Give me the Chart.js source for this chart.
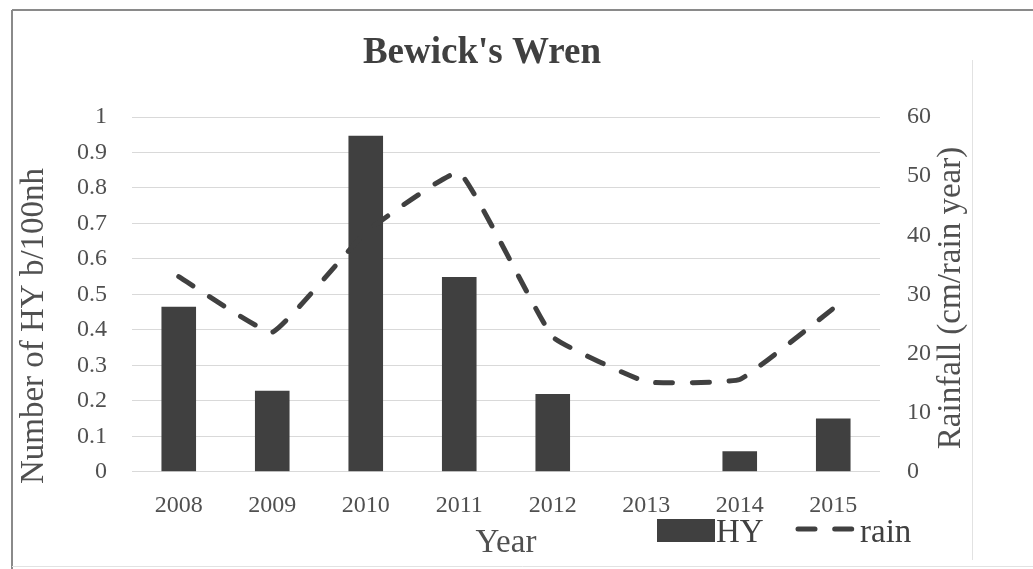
<!DOCTYPE html>
<html>
<head>
<meta charset="utf-8">
<title>Bewick's Wren</title>
<script src="https://cdn.jsdelivr.net/npm/chart.js@4"></script>
<style>
  html, body { margin: 0; padding: 0; background: #ffffff; }
  canvas { display: block; }
</style>
</head>
<body>
<canvas id="chart" width="1033" height="569"></canvas>
<script>
// Survey years
const years = ['2008', '2009', '2010', '2011', '2012', '2013', '2014', '2015'];
// Hatch-year birds per 100 net hours
const hyValues = [0.465, 0.228, 0.947, 0.549, 0.219, 0, 0.058, 0.150];
// Rainfall per rain year (cm)
const rainValues = [33.0, 23.6, 40.5, 50.6, 22.8, 15.2, 15.6, 27.6];
// Axis tick labels
const hyTickLabels = ['0', '0.1', '0.2', '0.3', '0.4', '0.5', '0.6', '0.7', '0.8', '0.9', '1'];
const rainTickLabels = ['0', '10', '20', '30', '40', '50', '60'];
// Titles
const chartTitle = "Bewick's Wren";
const xTitle = 'Year';
const yLeftTitle = 'Number of HY b/100nh';
const yRightTitle = 'Rainfall (cm/rain year)';

const SERIF = '"Liberation Serif", "Times New Roman", serif';
const DARK = '#404040';
const TEXT = '#505050';

// Frame, chart title, vertical axis titles and the legend
const decorations = {
  id: 'decorations',
  beforeDraw(chart) {
    const ctx = chart.ctx;
    ctx.save();
    ctx.strokeStyle = '#8a8a8a';
    ctx.lineWidth = 2;
    ctx.beginPath();
    ctx.moveTo(12, 10); ctx.lineTo(1033, 10);
    ctx.moveTo(12, 10); ctx.lineTo(12, 569);
    ctx.stroke();
    ctx.strokeStyle = '#e2e2e2';
    ctx.lineWidth = 1;
    ctx.beginPath();
    ctx.moveTo(972.5, 60); ctx.lineTo(972.5, 560);
    ctx.moveTo(12, 566.5); ctx.lineTo(1033, 566.5);
    ctx.stroke();
    ctx.restore();
  },
  afterDraw(chart) {
    const ctx = chart.ctx;
    ctx.save();

    // Chart title
    ctx.fillStyle = DARK;
    ctx.font = 'bold 37px ' + SERIF;
    ctx.textAlign = 'center';
    ctx.textBaseline = 'alphabetic';
    ctx.fillText(chartTitle, 482, 63);

    // Vertical axis titles, both reading bottom to top
    ctx.fillStyle = TEXT;
    ctx.font = '33px ' + SERIF;
    ctx.textBaseline = 'middle';
    ctx.save();
    ctx.translate(34, 326);
    ctx.rotate(-Math.PI / 2);
    ctx.fillText(yLeftTitle, 0, 0);
    ctx.restore();
    ctx.save();
    ctx.translate(951, 298);
    ctx.rotate(-Math.PI / 2);
    ctx.fillText(yRightTitle, 0, 0);
    ctx.restore();

    // Legend
    const bars = chart.data.datasets[0];
    const line = chart.data.datasets[1];
    ctx.font = '33px ' + SERIF;
    ctx.textAlign = 'left';
    ctx.textBaseline = 'alphabetic';
    ctx.fillStyle = bars.backgroundColor;
    ctx.fillRect(657, 519, 58, 23);
    ctx.fillStyle = DARK;
    ctx.fillText(bars.label, 716, 542);

    ctx.strokeStyle = line.borderColor;
    ctx.lineWidth = line.borderWidth;
    ctx.lineCap = line.borderCapStyle;
    ctx.setLineDash(line.borderDash);
    ctx.beginPath();
    ctx.moveTo(798, 529);
    ctx.lineTo(853, 529);
    ctx.stroke();
    ctx.setLineDash([]);
    ctx.fillText(line.label, 860, 542);

    ctx.restore();
  }
};

new Chart(document.getElementById('chart'), {
  data: {
    labels: years,
    datasets: [
      {
        type: 'bar',
        label: 'HY',
        data: hyValues,
        yAxisID: 'yHY',
        backgroundColor: DARK,
        borderWidth: 0,
        categoryPercentage: 1,
        barPercentage: 0.37,
        order: 2
      },
      {
        type: 'line',
        label: 'rain',
        data: rainValues,
        yAxisID: 'yRain',
        borderColor: DARK,
        borderWidth: 5,
        borderDash: [17, 19.7],
        borderCapStyle: 'round',
        borderJoinStyle: 'round',
        tension: 0.1,
        pointRadius: 0,
        fill: false,
        order: 1
      }
    ]
  },
  options: {
    responsive: false,
    animation: false,
    devicePixelRatio: 1,
    layout: { padding: { left: 0, right: 0, top: 117, bottom: 0 } },
    plugins: {
      legend: { display: false },
      title: { display: false },
      tooltip: { enabled: false }
    },
    scales: {
      x: {
        position: 'bottom',
        grid: { display: false },
        border: { display: false },
        ticks: {
          color: TEXT,
          font: { family: SERIF, size: 24 },
          padding: 12,
          maxRotation: 0
        },
        title: {
          display: true,
          text: xTitle,
          color: TEXT,
          font: { family: SERIF, size: 33 },
          padding: { top: 0, bottom: 6 }
        },
        afterFit(scale) { scale.height = 97.3; }
      },
      yHY: {
        position: 'left',
        min: 0,
        max: 1,
        ticks: {
          stepSize: 0.1,
          color: TEXT,
          font: { family: SERIF, size: 24 },
          padding: 25,
          callback: (value, index) => hyTickLabels[index]
        },
        grid: { color: '#d9d9d9', lineWidth: 1, drawTicks: false },
        border: { display: false },
        afterFit(scale) { scale.width = 132; }
      },
      yRain: {
        position: 'right',
        min: 0,
        max: 60,
        ticks: {
          stepSize: 10,
          color: TEXT,
          font: { family: SERIF, size: 24 },
          padding: 27,
          callback: (value, index) => rainTickLabels[index]
        },
        grid: { display: false, drawTicks: false },
        border: { display: false },
        afterFit(scale) { scale.width = 153; }
      }
    }
  },
  plugins: [decorations]
});
</script>
</body>
</html>
